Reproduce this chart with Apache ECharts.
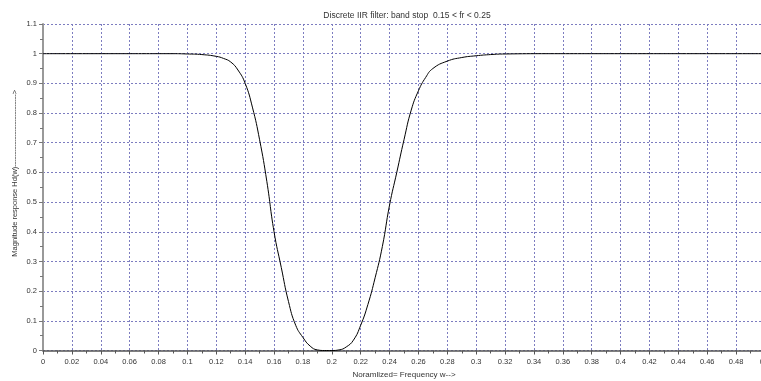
<!DOCTYPE html>
<html>
<head>
<meta charset="utf-8">
<script src="https://cdn.jsdelivr.net/npm/echarts@6/dist/echarts.min.js"></script>
<style>html,body{margin:0;padding:0;background:#fff}#c{width:761px;height:381px}</style>
</head>
<body>
<div id="c"></div>
<script>
var titleText = 'Discrete IIR filter: band stop  0.15 < fr < 0.25';
var xName = 'Noramlized= Frequency w-->';
var yName = 'Magnitude response Hd(w)----------------------------->';
var freq = [0, 0.05, 0.09, 0.1, 0.11, 0.12, 0.125, 0.13, 0.135, 0.14, 0.145, 0.15, 0.155, 0.16, 0.165, 0.17, 0.175, 0.18, 0.185, 0.19, 0.195, 0.2, 0.205, 0.21, 0.215, 0.22, 0.225, 0.23, 0.235, 0.24, 0.245, 0.25, 0.255, 0.26, 0.265, 0.27, 0.28, 0.29, 0.3, 0.31, 0.32, 0.35, 0.4, 0.45, 0.5];
var mag = [1, 1, 1, 0.999, 0.997, 0.991, 0.984, 0.972, 0.945, 0.90, 0.82, 0.71, 0.57, 0.40, 0.28, 0.165, 0.085, 0.044, 0.015, 0.002, 0.0, 0.0, 0.002, 0.012, 0.035, 0.085, 0.155, 0.245, 0.35, 0.49, 0.60, 0.71, 0.81, 0.875, 0.92, 0.95, 0.975, 0.987, 0.993, 0.997, 0.999, 1, 1, 1, 1];

var pts = freq.map(function (f, i) { return [f, mag[i]]; });
var chart = echarts.init(document.getElementById('c'));
var ff = 'Liberation Sans, Arial, sans-serif';
var grid = { type: [2, 2], color: '#7d7dc0', width: 1 };
chart.setOption({
  animation: false,
  title: {
    text: titleText, left: 402, top: 6, textAlign: 'center',
    textStyle: { fontSize: 8.5, fontWeight: 'normal', color: '#333', fontFamily: ff }
  },
  grid: { left: 43, top: 24, width: 722, height: 326.5, containLabel: false, outerBoundsMode: 'none' },
  xAxis: {
    type: 'value', min: 0, max: 0.5, interval: 0.02,
    name: xName, nameLocation: 'middle', nameGap: 20,
    nameTextStyle: { fontSize: 8, color: '#333', fontFamily: ff, padding: [0, 0, 0, 0] },
    axisLine: { show: true, onZero: false, lineStyle: { color: '#555', width: 1.5 } },
    axisTick: { show: true, inside: false, length: 4, lineStyle: { color: '#555' } },
    minorTick: { show: true, splitNumber: 2, length: 3, lineStyle: { color: '#555' } },
    axisLabel: { fontSize: 7.5, color: '#333', fontFamily: ff, margin: 7,
      formatter: function (v) { return String(+v.toFixed(2)); } },
    splitLine: { show: true, lineStyle: grid }
  },
  yAxis: {
    type: 'value', min: 0, max: 1.1, interval: 0.1,
    name: yName, nameLocation: 'middle', nameGap: 24, nameRotate: 90, nameMoveOverlap: false,
    nameTextStyle: { fontSize: 7.5, color: '#333', fontFamily: ff, padding: [0, 0, 0, 28] },
    axisLine: { show: true, onZero: false, lineStyle: { color: '#999', width: 2 } },
    axisTick: { show: true, inside: false, length: 4, lineStyle: { color: '#777' } },
    minorTick: { show: true, splitNumber: 2, length: 3, lineStyle: { color: '#777' } },
    axisLabel: { fontSize: 7.5, color: '#333', fontFamily: ff, margin: 6,
      formatter: function (v) { return String(+v.toFixed(1)); } },
    splitLine: { show: true, lineStyle: grid }
  },
  series: [{
    type: 'line', data: pts, showSymbol: false, smooth: 0.5,
    lineStyle: { color: '#000', width: 1 }, z: 5
  }]
});
</script>
</body>
</html>
